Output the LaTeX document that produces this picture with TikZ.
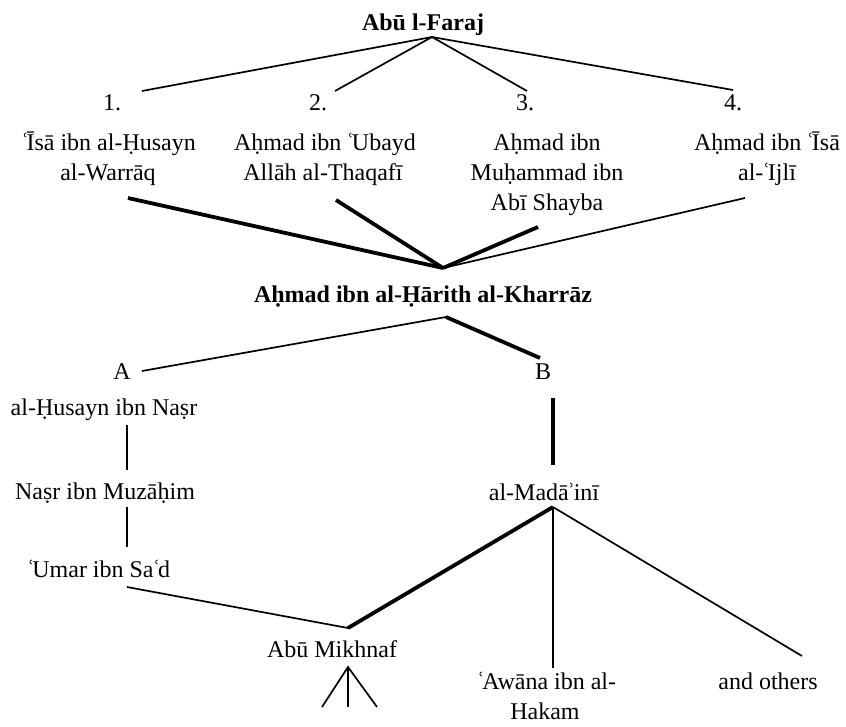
\documentclass[tikz,border=0pt]{standalone}
\usepackage{fontspec}
\setmainfont{Liberation Serif}
\newcommand{\ayn}{\kern-1pt ʿ\kern-2.5pt}
\newcommand{\hmz}{\kern-1.5pt ʾ\kern-1.5pt}
\begin{document}
\begin{tikzpicture}[x=1pt,y=-1pt,
  lbl/.style={inner sep=0pt,anchor=base,font=\fontsize{24}{30}\selectfont},
  bld/.style={lbl,font=\fontsize{24}{30}\selectfont\bfseries},
  thinline/.style={line width=1.7pt,line cap=butt},
  thickline/.style={line width=3.8pt,line cap=butt}]
\useasboundingbox (0,0) rectangle (846,726);
% text (baselines = visual centre + 7)
\node[bld] (top) at (423,30) {Abū l-Faraj};
\node[lbl] (n1) at (112,110) {1.};
\node[lbl] (n2) at (318,110) {2.};
\node[lbl] (n3) at (525,110) {3.};
\node[lbl] (n4) at (733,110) {4.};
\node[lbl] (a1) at (109,150) {\ayn Īsā ibn al-Ḥusayn};
\node[lbl] (a2) at (108,180) {al-Warrāq};
\node[lbl] (b1) at (325,150) {Aḥmad ibn \ayn Ubayd};
\node[lbl] (b2) at (323,180) {Allāh al-Thaqafī};
\node[lbl] (c1) at (547,150) {Aḥmad ibn};
\node[lbl] (c2) at (547,180) {Muḥammad ibn};
\node[lbl] (c3) at (547,210) {Abī Shayba};
\node[lbl] (d1) at (767,150) {Aḥmad ibn \ayn Īsā};
\node[lbl] (d2) at (767,180) {al-\ayn Ijlī};
\node[bld] (kh) at (423,302) {Aḥmad ibn al-Ḥārith al-Kharrāz};
\node[lbl] (A) at (122,379) {A};
\node[lbl] (B) at (543,379) {B};
\node[lbl] (hus) at (104,415) {al-Ḥusayn ibn Naṣr};
\node[lbl] (nas) at (105,499) {Naṣr ibn Muzāḥim};
\node[lbl] (uma) at (99,577) {\ayn Umar ibn Sa\ayn d};
\node[lbl] (mad) at (544,500) {al-Madā\hmz inī};
\node[lbl] (mik) at (332,657) {Abū Mikhnaf};
\node[lbl] (aw1) at (547,689) {\ayn Awāna ibn al-};
\node[lbl] (aw2) at (545,719) {Hakam};
\node[lbl] (oth) at (768,689) {and others};
% connector points
\coordinate (p0) at (432,37);
\coordinate (e1) at (142,91);
\coordinate (e2) at (335,91);
\coordinate (e3) at (527,91);
\coordinate (e4) at (733,90);
\coordinate (q0) at (443,268);
\coordinate (f1) at (128,198);
\coordinate (f2) at (336,200);
\coordinate (f3) at (538,227);
\coordinate (f4) at (745,198);
\coordinate (r0) at (446,317);
\coordinate (rA) at (142,371);
\coordinate (rB) at (540,358);
\coordinate (h1) at (127,425);
\coordinate (h2) at (127,470);
\coordinate (h3) at (127,507);
\coordinate (h4) at (127,547);
\coordinate (b3) at (553,398);
\coordinate (b4) at (553,465);
\coordinate (m0) at (553,507);
\coordinate (u0) at (127,587);
\coordinate (v0) at (348,628);
\coordinate (w0) at (553,668);
\coordinate (o0) at (802,656);
\coordinate (k0) at (348,667);
\coordinate (k1) at (322,707);
\coordinate (k2) at (348,707);
\coordinate (k3) at (377,707);
% connectors
\draw[thinline] (e1) -- (p0) -- (e4);
\draw[thinline] (e2) -- (p0) -- (e3);
\draw[thickline] (f1) -- (q0);
\draw[thickline] (f2) -- (q0);
\draw[thickline] (f3) -- (q0);
\draw[thinline] (f4) -- (q0);
\draw[thinline] (rA) -- (r0);
\draw[thickline] (r0) -- (rB);
\draw[thinline] (h1) -- (h2);
\draw[thinline] (h3) -- (h4);
\draw[thickline] (b3) -- (b4);
\draw[thinline] (u0) -- (v0);
\draw[thickline] (v0) -- (m0);
\draw[thinline] (m0) -- (w0);
\draw[thinline] (m0) -- (o0);
\draw[thinline] (k1) -- (k0) -- (k3);
\draw[thinline] (k0) -- (k2);
\end{tikzpicture}
\end{document}
